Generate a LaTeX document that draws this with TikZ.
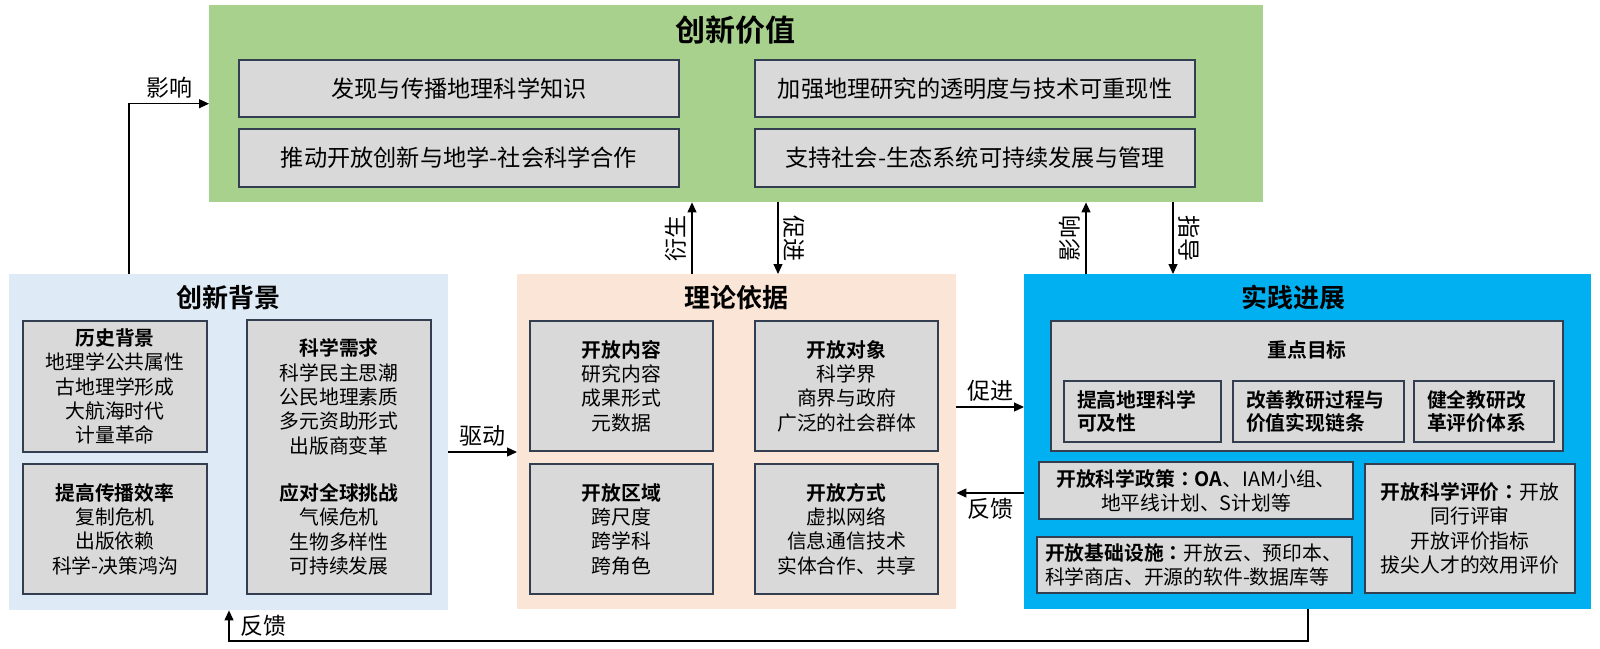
\documentclass[tikz,border=0pt]{standalone}
\usepackage{fontspec}
\setmainfont{Noto Sans CJK SC}[BoldFont={Noto Sans CJK SC Bold}]
\newfontfamily\tcfont{Noto Sans CJK TC}[BoldFont={Noto Sans CJK TC Bold}]
\usepackage{xcolor}
\usepackage{tikz}
\usetikzlibrary{arrows.meta}

\definecolor{valgreen}{HTML}{A9D18E}
\definecolor{bgblue}{HTML}{DEEBF7}
\definecolor{thpeach}{HTML}{FBE5D6}
\definecolor{prblue}{HTML}{00B0F0}
\definecolor{boxgray}{HTML}{D9D9D9}
\definecolor{boxline}{HTML}{333F50}
\newcommand{\ccolon}{{\tcfont ：}}

\begin{document}
\begin{tikzpicture}[
  x=1pt, y=-1pt,
  panel/.style 2 args={rectangle,inner sep=0pt,anchor=north west,minimum width=#1,minimum height=#2},
  item/.style 2 args={rectangle,draw=boxline,line width=1.5pt,fill=boxgray,inner sep=0pt,
    minimum width=#1,minimum height=#2,align=center},
  head/.style={font=\bfseries\fontsize{26}{30}\selectfont},
  topfont/.style={font=\fontsize{23.2}{28}\selectfont},
  body/.style={font=\fontsize{19.8}{24.3}\selectfont},
  goalfont/.style={font=\bfseries\fontsize{19.8}{23}\selectfont},
  lbl/.style={font=\fontsize{23}{27}\selectfont,inner sep=5pt},
  arr/.style={-{Triangle[length=10pt,width=9pt]},line width=1.2pt}
]
\useasboundingbox (0,0) rectangle (1600,648);

% innovation value
\node[panel={1054}{197},fill=valgreen] (val) at (209,5) {};
\node[head,font=\bfseries\fontsize{30}{34}\selectfont] (valT) at (735,30) {创新价值};
\node[item={440}{57},topfont] (v1) at (459,88.5) {发现与传播地理科学知识};
\node[item={440}{58},topfont] (v2) at (459,158) {推动开放创新与地学-社会科学合作};
\node[item={440}{57},topfont] (v3) at (975,88.5) {加强地理研究的透明度与技术可重现性};
\node[item={440}{58},topfont] (v4) at (975,158) {支持社会-生态系统可持续发展与管理};

% background
\node[panel={439}{336},fill=bgblue] (bg) at (9,274) {};
\node[head] (bgT) at (228,298) {创新背景};
\node[item={184}{131},body] (h1) at (115,386.5)
  {\textbf{历史背景}\\地理学公共属性\\古地理学形成\\大航海时代\\计量革命};
\node[item={184}{130},body] (h2) at (115,529)
  {\textbf{提高传播效率}\\复制危机\\出版依赖\\科学-决策鸿沟};
\node[item={184}{274},body] (h3) at (339,457)
  {\textbf{科学需求}\\科学民主思潮\\公民地理素质\\多元资助形式\\出版商变革\\[23pt]
   \textbf{应对全球挑战}\\气候危机\\生物多样性\\可持续发展};

% theory
\node[panel={439}{335},fill=thpeach] (th) at (517,274) {};
\node[head] (thT) at (736,298) {理论依据};
\node[item={183}{130},body] (t1) at (621.5,386) {\textbf{开放内容}\\研究内容\\成果形式\\元数据};
\node[item={183}{130},body] (t2) at (846.5,386) {\textbf{开放对象}\\科学界\\商界与政府\\广泛的社会群体};
\node[item={183}{130},body] (t3) at (621.5,529) {\textbf{开放区域}\\跨尺度\\跨学科\\跨角色};
\node[item={183}{130},body] (t4) at (846.5,529) {\textbf{开放方式}\\虚拟网络\\信息通信技术\\实体合作、共享};

% practice
\node[panel={567}{335},fill=prblue] (pr) at (1024,274) {};
\node[head] (prT) at (1293,298) {实践进展};
\node[item={512}{130}] (goal) at (1307,386) {};
\node[goalfont] (goalT) at (1307,350) {重点目标};
\node[item={157}{61},goalfont,text width=131,align=left] (g1) at (1142.5,411.5) {提高地理科学\\可及性};
\node[item={171}{61},goalfont,text width=145,align=left] (g2) at (1318.5,411.5) {改善教研过程与\\价值实现链条};
\node[item={140}{61},goalfont,text width=114,align=left] (g3) at (1484,411.5) {健全教研改\\革评价体系};
\node[item={314}{57},body] (p1) at (1196,490.5)
  {\textbf{开放科学政策\ccolon OA}、IAM小组、\\地平线计划、S计划等};
\node[item={315}{56},body,text width=299,align=left] (p2) at (1194.5,565)
  {\textbf{开放基础设施\ccolon}开放云、预印本、\\科学商店、开源的软件-数据库等};
\node[item={210}{129},body] (p3) at (1470,528.5)
  {\textbf{开放科学评价\ccolon}开放\\同行评审\\开放评价指标\\拔尖人才的效用评价};

% connectors
\coordinate (xinfl) at (129,0);
\coordinate (xder) at (692,0);
\coordinate (xpro) at (778,0);
\coordinate (xinf) at (1086,0);
\coordinate (xgui) at (1173,0);
\coordinate (ydrv) at (0,452);
\coordinate (ypro) at (0,407);
\coordinate (yfb) at (0,493);
\coordinate (fbr) at (1308,641);
\coordinate (fbl) at (229,641);

\draw[arr] (xinfl |- bg.north) |- node[lbl,above,pos=0.75] {影响} (val.west);
\draw[arr] (xder |- th.north) -- node[lbl,rotate=90,anchor=south] {衍生} (xder |- val.south);
\draw[arr] (xpro |- val.south) -- node[lbl,rotate=-90,anchor=south] {促进} (xpro |- th.north);
\draw[arr] (xinf |- pr.north) -- node[lbl,rotate=90,anchor=south] {影响} (xinf |- val.south);
\draw[arr] (xgui |- val.south) -- node[lbl,rotate=-90,anchor=south] {指导} (xgui |- pr.north);
\draw[arr] (ydrv -| bg.east) -- node[lbl,above] {驱动} (ydrv -| th.west);
\draw[arr] (ypro -| th.east) -- node[lbl,above] {促进} (ypro -| pr.west);
\draw[arr] (yfb -| pr.west) -- node[lbl,below] {反馈} (yfb -| th.east);
\draw[arr] (fbr |- pr.south) -- (fbr) -- (fbl) -- node[lbl,right,xshift=6pt] {反馈} (fbl |- bg.south);
\end{tikzpicture}
\end{document}
